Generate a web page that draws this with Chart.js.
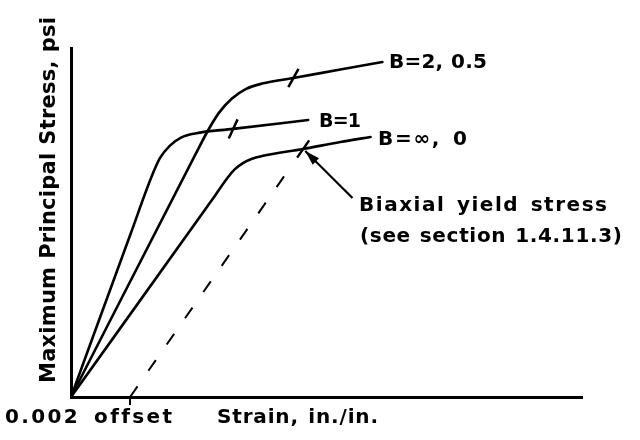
<!DOCTYPE html>
<html><head><meta charset="utf-8">
<script src="https://cdn.jsdelivr.net/npm/chart.js@4.4.1/dist/chart.umd.min.js"></script>
<style>html,body{margin:0;padding:0;background:#fff}</style>
</head><body>
<canvas id="c" width="640" height="440"></canvas>
<script>
// Strain in units of 0.001 in./in.; stress in relative units (0-100)
const strainB2 = [0, 4.20, 4.61, 5.00, 5.44, 5.93, 6.47, 7.53, 9.12, 10.54];
const stressB2 = [0, 69.28, 75.93, 81.34, 85.46, 88.28, 89.80, 91.40, 93.84, 95.99];
const strainB1 = [0, 2.00, 2.75, 3.01, 3.35, 3.74, 4.20, 5.49, 8.03];
const stressB1 = [0, 46.33, 63.58, 68.43, 72.04, 74.41, 75.53, 76.82, 79.37];
const strainBinf = [0, 4.88, 5.32, 5.55, 5.82, 6.13, 6.47, 7.86, 9.12, 10.14];
const stressBinf = [0, 57.77, 63.04, 65.28, 67.03, 68.29, 69.05, 71.06, 73.07, 74.50];
const offsetStrain = [2, 7.32];
const offsetStress = [0, 64.5];
const yieldStrain = [7.53, 5.49, 7.86];
const yieldStress = [91.4, 76.82, 71.06];
const yieldAngle = [-61, -65, -55];
const arrowStrain = [9.53, 7.93];
const arrowStress = [57.0, 70.5];
const offsetTick = [2];
const labelTexts = ['B=2, 0.5', 'B=1', 'B=\u221E, 0', 'Biaxial yield stress', '(see section 1.4.11.3)', '0.002 offset', 'Strain, in./in.'];
const yTitle = 'Maximum Principal Stress, psi';

const pts = (xs, ys) => xs.map((x, i) => ({x, y: ys[i]}));
const FONT = '"DejaVu Sans", "Liberation Sans", sans-serif';

function fitText(ctx, text, x, y, width) {
  const chars = [...text];
  const ws = chars.map(c => ctx.measureText(c).width);
  const natural = ws.reduce((a, b) => a + b, 0);
  const wt = i => (chars[i] === ' ' || chars[i + 1] === ' ') ? 2 : 1;
  let units = 0;
  for (let i = 0; i < chars.length - 1; i++) units += wt(i);
  const gap = units ? (width - natural) / units : 0;
  let cx = x;
  chars.forEach((c, i) => {
    ctx.fillText(c, cx, y);
    cx += ws[i] + (i < chars.length - 1 ? wt(i) * gap : 0);
  });
}

const labelPlugin = {
  id: 'labels',
  afterDatasetsDraw(chart) {
    const ctx = chart.ctx;
    const meta = chart.getDatasetMeta(5);
    const p0 = meta.data[0], p1 = meta.data[1];
    const ang = Math.atan2(p1.y - p0.y, p1.x - p0.x);
    const L = 15, W = 4.5;
    ctx.save();
    ctx.fillStyle = '#000';
    ctx.beginPath();
    ctx.moveTo(p1.x, p1.y);
    ctx.lineTo(p1.x - L * Math.cos(ang) + W * Math.sin(ang), p1.y - L * Math.sin(ang) - W * Math.cos(ang));
    ctx.lineTo(p1.x - L * Math.cos(ang) - W * Math.sin(ang), p1.y - L * Math.sin(ang) + W * Math.cos(ang));
    ctx.closePath();
    ctx.fill();
    ctx.restore();
  },
  afterDraw(chart) {
    const ctx = chart.ctx;
    const place = [[389, 68, 98, 20], [319, 127, 42, 19], [378, 145, 89, 20],
                   [359, 211, 248, 20], [360, 242, 262, 20], [5, 423, 167, 20], [217, 423, 161, 20]];
    ctx.save();
    ctx.fillStyle = '#000';
    ctx.textBaseline = 'alphabetic';
    ctx.textAlign = 'left';
    labelTexts.forEach((t, i) => {
      const [x, y, w, s] = place[i];
      ctx.font = 'bold ' + s + 'px ' + FONT;
      fitText(ctx, t, x, y, w);
    });
    ctx.translate(55, 383);
    ctx.rotate(-Math.PI / 2);
    ctx.font = 'bold 21px ' + FONT;
    fitText(ctx, yTitle, 0, 0, 366);
    ctx.restore();
  }
};

const curve = (data) => ({
  type: 'line', data, borderColor: '#000', borderWidth: 2.6, pointRadius: 0,
  cubicInterpolationMode: 'monotone', fill: false, borderCapStyle: 'round', borderJoinStyle: 'round'
});

new Chart(document.getElementById('c'), {
  type: 'scatter',
  data: {
    datasets: [
      curve(pts(strainB2, stressB2)),
      curve(pts(strainB1, stressB1)),
      curve(pts(strainBinf, stressBinf)),
      {type: 'line', data: pts(offsetStrain, offsetStress), borderColor: '#000', borderWidth: 2,
       borderDash: [13, 19], pointRadius: 0, fill: false},
      {type: 'scatter', data: pts(yieldStrain, yieldStress), pointStyle: 'line', pointRadius: 10.5,
       pointRotation: yieldAngle, pointBorderColor: '#000', pointBorderWidth: 2.5, pointBackgroundColor: '#000'},
      {type: 'line', data: pts(arrowStrain, arrowStress), borderColor: '#000', borderWidth: 2.2,
       pointRadius: 0, fill: false}
    ]
  },
  options: {
    responsive: false,
    animation: false,
    layout: {padding: {top: 48, right: 58, left: 0, bottom: 0}},
    plugins: {legend: {display: false}, tooltip: {enabled: false}},
    scales: {
      x: {
        type: 'linear', min: 0, max: 17.3,
        afterBuildTicks: s => { s.ticks = offsetTick.map(v => ({value: v})); },
        ticks: {display: false},
        grid: {display: true, drawOnChartArea: false, drawTicks: true, tickLength: 8, color: '#000', lineWidth: 2},
        border: {display: true, color: '#000', width: 3},
        afterFit: s => { s.height = 43; }
      },
      y: {
        type: 'linear', min: 0, max: 100,
        ticks: {display: false},
        grid: {display: false},
        border: {display: true, color: '#000', width: 3},
        afterFit: s => { s.width = 71; }
      }
    }
  },
  plugins: [labelPlugin]
});
</script>
</body></html>
